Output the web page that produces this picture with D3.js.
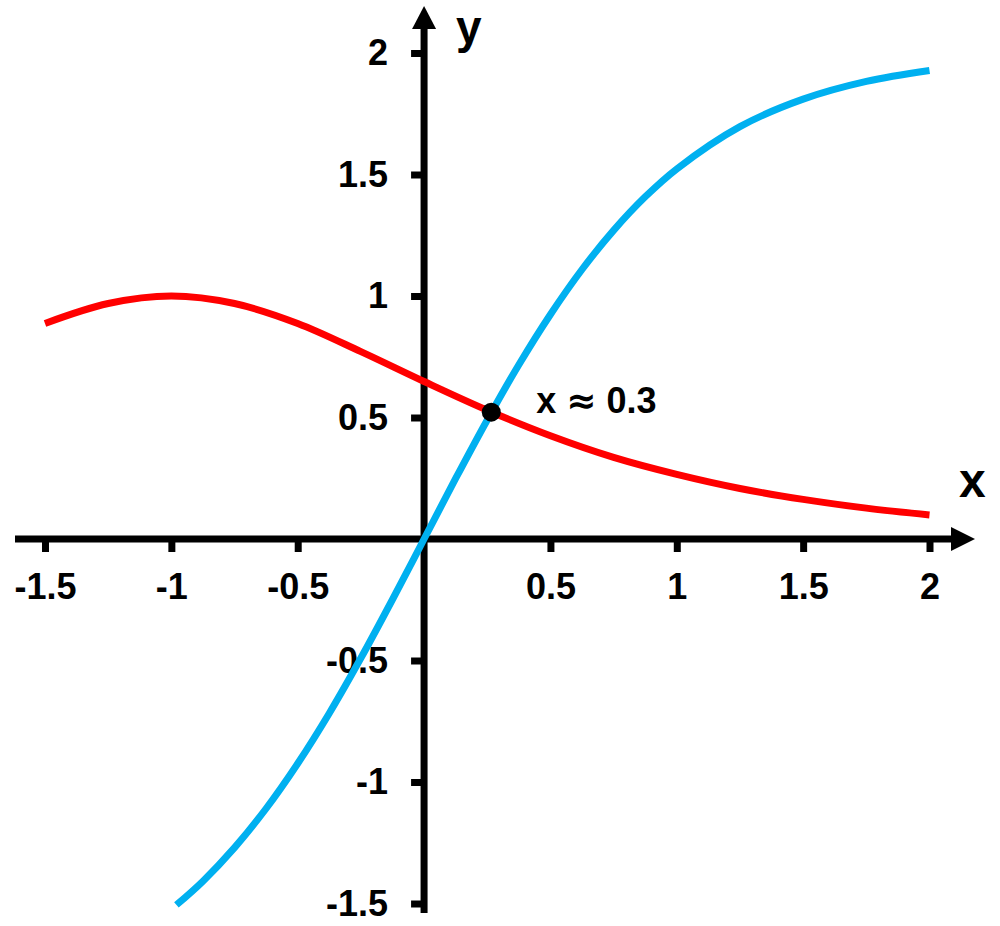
<!DOCTYPE html>
<html>
<head>
<meta charset="utf-8">
<script src="https://cdn.jsdelivr.net/npm/d3@7"></script>
<style>
  body { margin: 0; background: #fff; }
  text { font-family: "Liberation Sans", Arial, sans-serif; font-weight: bold; fill: #000; }
</style>
</head>
<body>
<div id="chart-area"></div>
<script>
// Red curve
const redX = [-1.5, -1.25, -1.0, -0.75, -0.5, -0.25, 0, 0.25, 0.5, 0.75, 1.0, 1.25, 1.5, 1.75, 2.0];
const redY = [0.887, 0.969, 1.0, 0.969, 0.887, 0.771, 0.648, 0.53, 0.425, 0.336, 0.266, 0.208, 0.163, 0.127, 0.099];

// Blue curve
const blueX = [-0.98, -0.875, -0.75, -0.625, -0.5, -0.375, -0.25, -0.125, 0, 0.125, 0.25, 0.375, 0.5, 0.625, 0.75, 0.875, 1.0, 1.25, 1.5, 1.75, 2.0];
const blueY = [-1.506, -1.408, -1.27, -1.109, -0.924, -0.717, -0.49, -0.249, 0, 0.249, 0.49, 0.717, 0.924, 1.109, 1.27, 1.408, 1.523, 1.697, 1.81, 1.883, 1.928];

// Intersection marker
const crossX = [0.266];
const crossY = [0.522];

// Ticks
const xTicks = [-1.5, -1, -0.5, 0.5, 1, 1.5, 2];
const yTicks = [-1.5, -1, -0.5, 0.5, 1, 1.5, 2];

const width = 1000;
const height = 926;

const svg = d3.select('#chart-area')
  .append('svg')
    .attr('width', width)
    .attr('height', height);

// Scales
const x = d3.scaleLinear().domain([-1.5, 2]).range([45, 929.5]);
const y = d3.scaleLinear().domain([-1.5, 2]).range([903.5, 53]);

const x0 = x(0);
const y0 = y(0);

// X axis
const xAxis = d3.axisBottom(x)
  .tickValues(xTicks)
  .tickSize(13)
  .tickPadding(21)
  .tickFormat(d => String(d));

const xAxisGroup = svg.append('g')
  .attr('transform', 'translate(0,' + y0 + ')')
  .call(xAxis);

// Y axis
const yAxis = d3.axisLeft(y)
  .tickValues(yTicks)
  .tickSize(13)
  .tickPadding(23)
  .tickFormat(d => String(d));

const yAxisGroup = svg.append('g')
  .attr('transform', 'translate(' + x0 + ',0)')
  .call(yAxis);

[xAxisGroup, yAxisGroup].forEach(ax => {
  ax.select('.domain').remove();
  ax.selectAll('.tick line').attr('stroke', '#000').attr('stroke-width', 7);
  ax.selectAll('.tick text')
    .attr('font-size', '36px')
    .attr('font-family', '"Liberation Sans", Arial, sans-serif')
    .attr('font-weight', 'bold')
    .attr('fill', '#000');
});

// Axis lines with arrows
svg.append('line')
  .attr('x1', 15).attr('x2', 953)
  .attr('y1', y0).attr('y2', y0)
  .attr('stroke', '#000').attr('stroke-width', 7);

svg.append('path')
  .attr('d', 'M951,' + (y0 - 12) + 'L975,' + y0 + 'L951,' + (y0 + 12) + 'Z')
  .attr('fill', '#000');

svg.append('line')
  .attr('x1', x0).attr('x2', x0)
  .attr('y1', 913).attr('y2', 27)
  .attr('stroke', '#000').attr('stroke-width', 7);

svg.append('path')
  .attr('d', 'M' + (x0 - 12) + ',29L' + x0 + ',6L' + (x0 + 12) + ',29Z')
  .attr('fill', '#000');

// Axis names
svg.append('text')
  .attr('x', 959).attr('y', 497)
  .attr('font-size', '48px')
  .text('x');

svg.append('text')
  .attr('x', 456).attr('y', 43)
  .attr('font-size', '46px')
  .text('y');

// Curves
const line = d3.line()
  .x(d => x(d[0]))
  .y(d => y(d[1]))
  .curve(d3.curveCatmullRom.alpha(0.5));

svg.append('path')
  .datum(redX.map((v, i) => [v, redY[i]]))
  .attr('d', line)
  .attr('fill', 'none')
  .attr('stroke', '#FF0000')
  .attr('stroke-width', 7);

svg.append('path')
  .datum(blueX.map((v, i) => [v, blueY[i]]))
  .attr('d', line)
  .attr('fill', 'none')
  .attr('stroke', '#00B0F0')
  .attr('stroke-width', 7);

// Intersection point
const cross = crossX.map((v, i) => ({ x: v, y: crossY[i] }));

svg.selectAll('.cross')
  .data(cross)
  .enter()
  .append('circle')
    .attr('class', 'cross')
    .attr('cx', d => x(d.x))
    .attr('cy', d => y(d.y))
    .attr('r', 9.5)
    .attr('fill', '#000');

const label = svg.selectAll('.cross-label')
  .data(cross)
  .enter()
  .append('text')
    .attr('class', 'cross-label')
    .attr('x', d => x(d.x) + 45)
    .attr('y', d => y(d.y) + 1)
    .attr('font-size', '36px');

label.append('tspan').text('x ');
label.append('tspan')
  .attr('font-family', '"DejaVu Sans", sans-serif')
  .text('\u2248');
label.append('tspan').text(' ' + 0.3);
</script>
</body>
</html>
